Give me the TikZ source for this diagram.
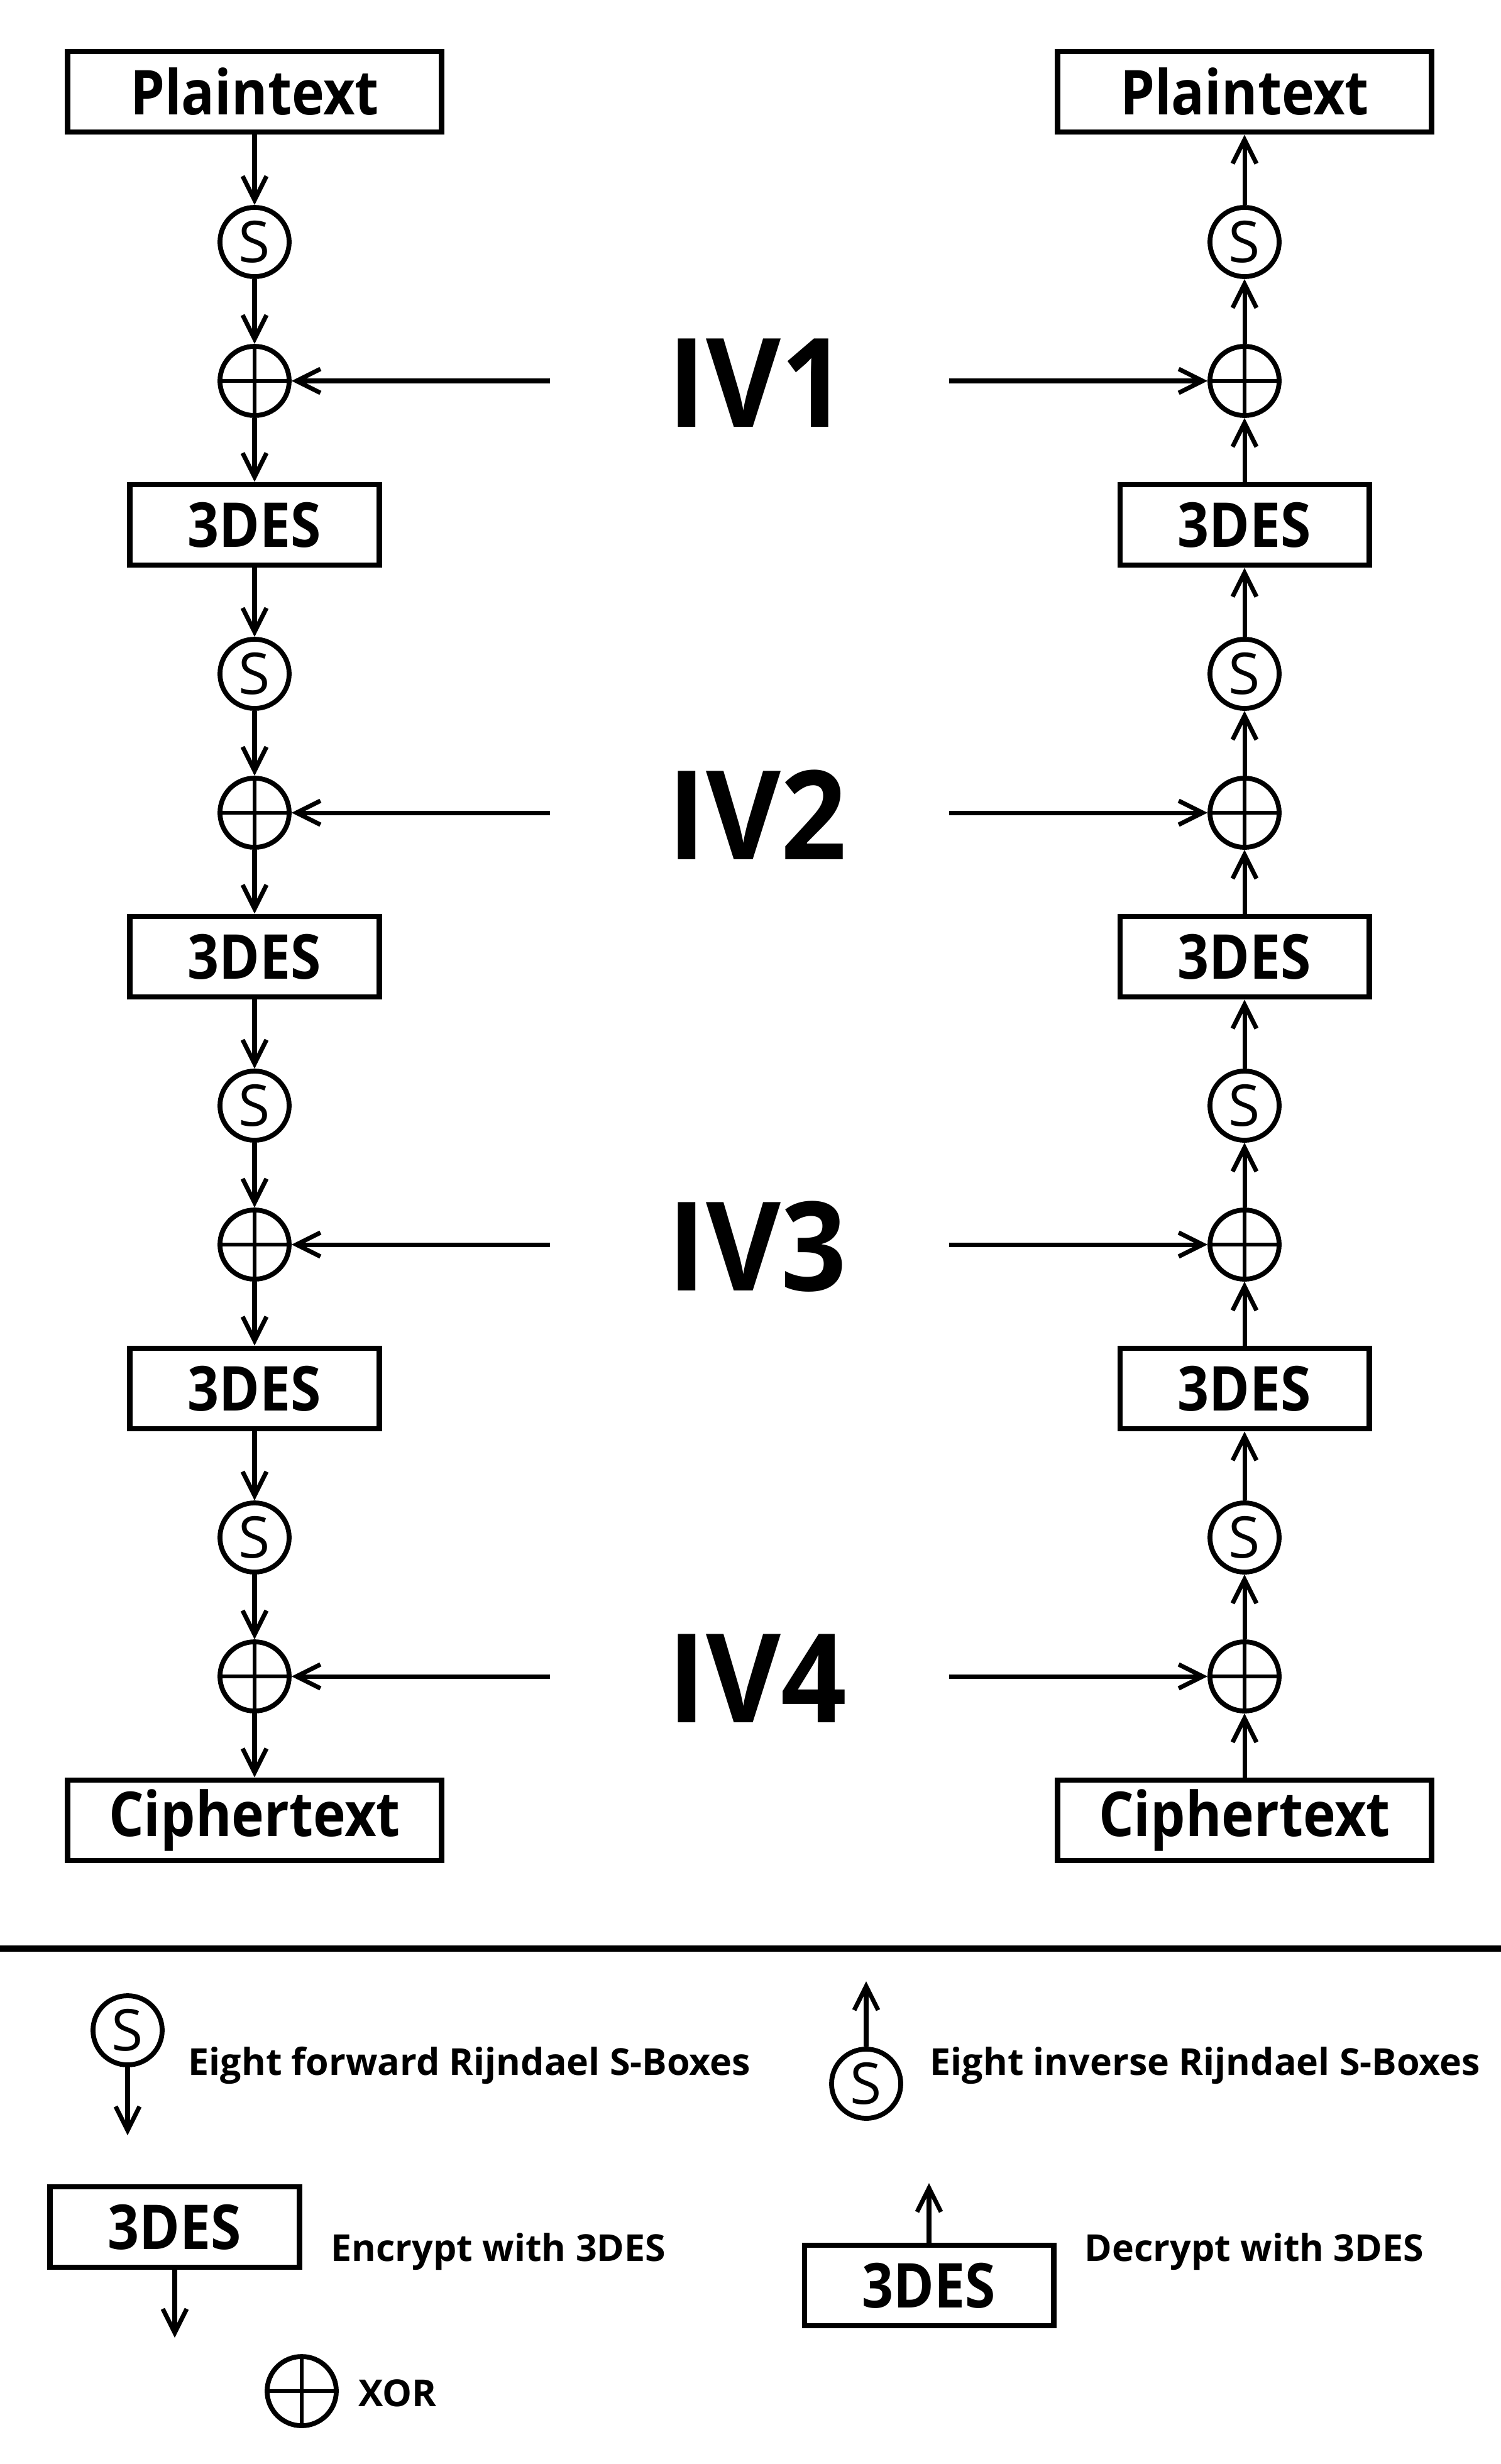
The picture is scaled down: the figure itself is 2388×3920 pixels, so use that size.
\documentclass[tikz,border=0pt]{standalone}
\usepackage{fontspec}
\setmainfont{Open Sans}
\newfontfamily\narrowfont{Open Sans}[FakeStretch=0.89]
\newfontfamily\ivfont{Open Sans}[FakeStretch=0.93]
\usetikzlibrary{arrows.meta, positioning}

\begin{document}
\begin{tikzpicture}[x=0.01cm, y=-0.01cm,
    box/.style={draw, line width=2.5pt, minimum height=1.28cm, inner sep=0pt,
        font=\narrowfont\fontsize{28}{30}\selectfont\bfseries},
    iobox/.style={box, minimum width=5.94cm},
    desbox/.style={box, minimum width=3.96cm},
    sbox/.style={draw, circle, line width=2.2pt, minimum size=1.1cm, inner sep=0pt,
        font=\fontsize{26}{28}\selectfont},
    xorop/.style={draw, circle, line width=2.2pt, minimum size=1.1cm, inner sep=0pt,
        path picture={\draw[line width=1.8pt]
            (path picture bounding box.north) -- (path picture bounding box.south)
            (path picture bounding box.west) -- (path picture bounding box.east);}},
    flow/.style={-{Straight Barb[length=0.38cm, width=0.38cm]}, line width=2pt},
    ivlabel/.style={anchor=west, inner sep=0pt, font=\ivfont\fontsize{56}{60}\selectfont\bfseries},
    legtext/.style={anchor=west, inner sep=0pt, font=\fontsize{16.8}{18}\selectfont\bfseries}]
\useasboundingbox (0,0) rectangle (2388,3920);

% Encryption (left)
\node[iobox] (pl) at (405,146) {Plaintext};
\foreach \i in {1,...,4} {
    \node[sbox] (sl\i) at (405, 385+687*\i-687) {S};
    \node[xorop] (xl\i) at (405, 606+687*\i-687) {};
}
\foreach \i in {1,2,3}
    \node[desbox] (dl\i) at (405, 835+687*\i-687) {3DES};
\node[iobox] (cl) at (405,2896) {Ciphertext};

\draw[flow] (pl) -- (sl1);
\foreach \i in {1,...,4}
    \draw[flow] (sl\i) -- (xl\i);
\foreach \i [evaluate=\i as \j using int(\i+1)] in {1,2,3} {
    \draw[flow] (xl\i) -- (dl\i);
    \draw[flow] (dl\i) -- (sl\j);
}
\draw[flow] (xl4) -- (cl);

% Decryption (right)
\node[iobox] (pr) at (1980,146) {Plaintext};
\foreach \i in {1,...,4} {
    \node[sbox] (sr\i) at (1980, 385+687*\i-687) {S};
    \node[xorop] (xr\i) at (1980, 606+687*\i-687) {};
}
\foreach \i in {1,2,3}
    \node[desbox] (dr\i) at (1980, 835+687*\i-687) {3DES};
\node[iobox] (cr) at (1980,2896) {Ciphertext};

\draw[flow] (sr1) -- (pr);
\foreach \i in {1,...,4}
    \draw[flow] (xr\i) -- (sr\i);
\foreach \i [evaluate=\i as \j using int(\i+1)] in {1,2,3} {
    \draw[flow] (dr\i) -- (xr\i);
    \draw[flow] (sr\j) -- (dr\i);
}
\draw[flow] (cr) -- (xr4);

% IVs
\foreach \i in {1,...,4} {
    \node[ivlabel] (iv\i) at (1062, 609+687*\i-687) {IV\i};
    \coordinate (ivl\i) at (875, 606+687*\i-687);
    \coordinate (ivr\i) at (1510, 606+687*\i-687);
    \draw[flow] (ivl\i) -- (xl\i);
    \draw[flow] (ivr\i) -- (xr\i);
}

% Legend
\draw[line width=3.1pt] (0,3100) -- (2388,3100);

\node[sbox] (lsf) at (203,3230) {S};
\coordinate (lsfend) at (203,3397);
\draw[flow] (lsf) -- (lsfend);
\node[legtext] (lsftext) at (299,3286) {Eight forward Rijndael S-Boxes};

\node[desbox] (lenc) at (278,3543) {3DES};
\coordinate (lencend) at (278,3719);
\draw[flow] (lenc) -- (lencend);
\node[legtext] (lenctext) at (526,3582) {Encrypt with 3DES};

\node[xorop] (lxor) at (480,3804) {};
\node[legtext] (lxortext) at (570,3807) {XOR};

\node[sbox] (lsi) at (1378,3315) {S};
\coordinate (lsiend) at (1378,3152);
\draw[flow] (lsi) -- (lsiend);
\node[legtext] (lsitext) at (1479,3286) {Eight inverse Rijndael S-Boxes};

\node[desbox] (ldec) at (1478,3636) {3DES};
\coordinate (ldecend) at (1478,3473);
\draw[flow] (ldec) -- (ldecend);
\node[legtext] (ldectext) at (1725,3582) {Decrypt with 3DES};
\end{tikzpicture}
\end{document}
